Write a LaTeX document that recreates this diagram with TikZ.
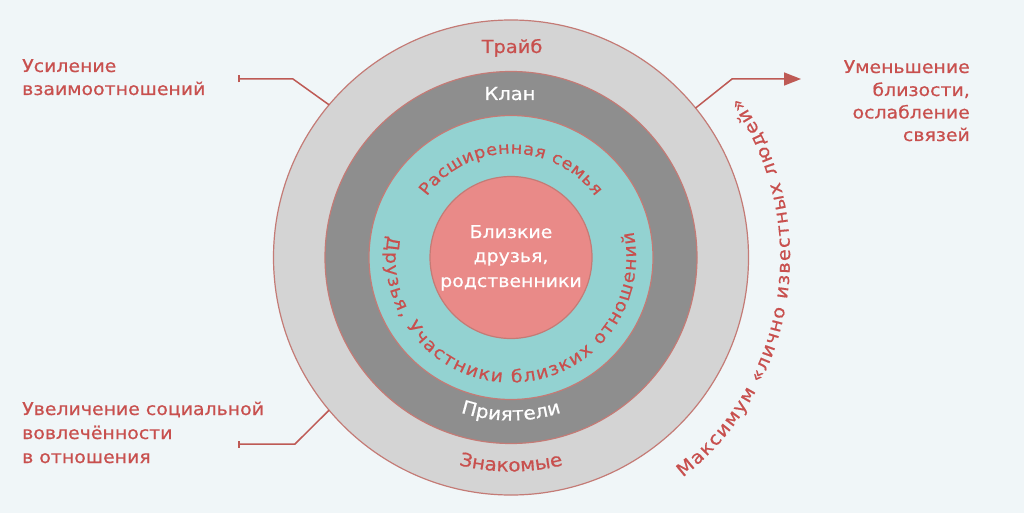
\documentclass[tikz,border=0pt]{standalone}
\usepackage{fontspec}
\newfontfamily\lab{DejaVu Sans}[FakeStretch=1.08,FakeBold=0.6]
\usetikzlibrary{decorations.text,arrows.meta}
\definecolor{bg}{HTML}{F0F6F8}
\definecolor{labred}{HTML}{C8504E}
\definecolor{linered}{HTML}{BE5A55}
\definecolor{ringedge}{HTML}{C47B76}
\definecolor{ringa}{HTML}{D4D4D4}
\definecolor{ringb}{HTML}{8E8E8E}
\definecolor{ringc}{HTML}{93D2D1}
\definecolor{core}{HTML}{E98A88}
\tikzset{
  ring/.style={circle,draw=ringedge,line width=1.2pt,inner sep=0pt,outer sep=0pt},
  side/.style={font=\lab\fontsize{17.5}{23}\selectfont,text=labred,inner sep=0pt},
  lbl/.style={font=\lab\fontsize{18}{22}\selectfont,inner sep=0pt,anchor=base},
  conn/.style={draw=linered,line width=1.5pt},
}
\begin{document}
\begin{tikzpicture}[x=1pt,y=1pt]
\fill[bg] (0,0) rectangle (1024,-513);
\useasboundingbox (0,0) rectangle (1024,-513);
\coordinate (C) at (511,-257.5);
\node[ring,fill=ringa,minimum size=475pt] (tribe) at (C) {};
\node[ring,fill=ringb,minimum size=372pt] (clan) at (C) {};
\node[ring,fill=ringc,minimum size=284pt] (family) at (C) {};
\node[ring,fill=core,minimum size=162pt] (core) at (C) {};

% straight ring labels
\node[lbl,text=labred] (tribelbl) at (512,-53) {Трайб};
\node[lbl,text=white] (clanlbl) at (510,-100) {Клан};

% core text
\node[lbl,text=white,font=\lab\fontsize{17.5}{22}\selectfont] (core1) at (511,-238) {Близкие};
\node[lbl,text=white,font=\lab\fontsize{17.5}{22}\selectfont] (core2) at (511,-262) {друзья,};
\node[lbl,text=white,font=\lab\fontsize{17.5}{22}\selectfont] (core3) at (511,-287) {родственники};

% curved labels
\path[decorate,decoration={text along path,text align=fit to path,
  text={|\lab\fontsize{16.5}{17}\selectfont\color{labred}|Расширенная семья}}]
  ([shift={(144:104)}]C) arc[start angle=144,end angle=36,radius=104];
\path[decorate,decoration={text along path,text align=fit to path,
  text={|\lab\fontsize{17.5}{17}\selectfont\color{labred}|Друзья{,} Участники близких отношений}}]
  ([shift={(170:125)}]C) arc[start angle=170,end angle=372,radius=125];
\path[decorate,decoration={text along path,text align=center,
  text={|\lab\fontsize{18.5}{18}\selectfont\color{white}|Приятели}}]
  ([shift={(230:163)}]C) arc[start angle=230,end angle=310,radius=163];
\path[decorate,decoration={text along path,text align=center,
  text={|\lab\fontsize{18.5}{18}\selectfont\color{labred}|Знакомые}}]
  ([shift={(240:214)}]C) arc[start angle=240,end angle=300,radius=214];
\path[decorate,decoration={text along path,text align=fit to path,
  text={|\lab\fontsize{18}{18}\selectfont\color{labred}|Максимум «лично известных людей»}}]
  ([shift={(-52:279)}]C) arc[start angle=-52,end angle=35,radius=279];

% side texts
\node[side,anchor=base west] (ltA) at (22,-72) {Усиление};
\node[side,anchor=base west] (ltB) at (22,-95) {взаимоотношений};
\node[side,anchor=base west] (lbA) at (22,-415) {Увеличение социальной};
\node[side,anchor=base west] (lbB) at (22,-439) {вовлечённости};
\node[side,anchor=base west] (lbC) at (22,-463) {в отношения};
\node[side,anchor=base east] (rtA) at (970,-73) {Уменьшение};
\node[side,anchor=base east] (rtB) at (970,-96) {близости,};
\node[side,anchor=base east] (rtC) at (970,-118.5) {ослабление};
\node[side,anchor=base east] (rtD) at (970,-141) {связей};

% connectors
\coordinate (lt0) at (238,-79);
\coordinate (lt1) at (293,-79);
\coordinate (lb0) at (238,-444);
\coordinate (lb1) at (295,-444);
\coordinate (rt1) at (732,-79);
\coordinate (rt2) at (801,-79);
\draw[conn,{Bar[width=7pt,length=0pt]}-] (lt0) -- (lt1) -- (tribe.140.6);
\draw[conn,{Bar[width=7pt,length=0pt]}-] (lb0) -- (lb1) -- (tribe.220.8);
\draw[conn,-{Triangle[length=17pt,width=13pt]}] (tribe.39) -- (rt1) -- (rt2);
\end{tikzpicture}
\end{document}
